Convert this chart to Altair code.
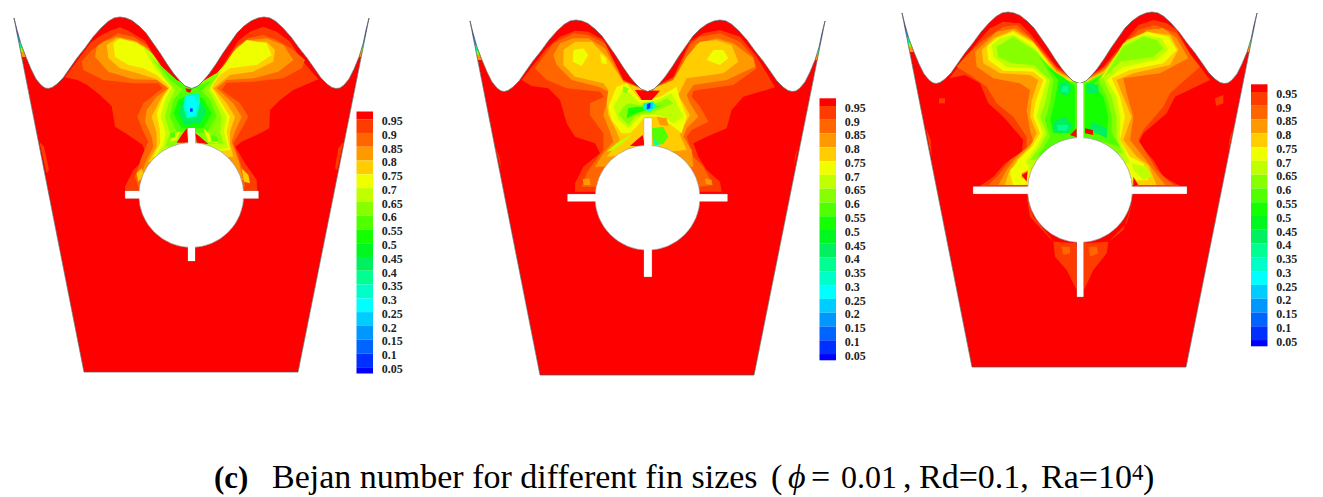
import altair as alt

LEVELS = ["0.975","0.925","0.875","0.825","0.775","0.725","0.675","0.625","0.575","0.525",
          "0.475","0.425","0.375","0.325","0.275","0.225","0.175","0.125","0.075","0.025","blank"]
COLORS = ["#ff0000","#ff3c00","#ff6600","#ff9900","#ffcd00","#f0ff00","#c0ff00","#88ff00","#50ff00","#14ff00",
          "#00f820","#00f060","#00ff90","#00ffc8","#00ffff","#00ccff","#0098ff","#0064ff","#0030ff","#0000ff","#ffffff"]
TICKS = ["0.95","0.9","0.85","0.8","0.75","0.7","0.65","0.6","0.55","0.5","0.45","0.4","0.35","0.3","0.25","0.2","0.15","0.1","0.05"]

WAVE = [(14,18),(17,30),(21,44),(26,57),(31,69),(36,79),(41,85),(45,88),(48.3,88.5),(52,87.5),(57,84),(63,78),(70,68),(77,58),(85,48),(93,37),(101,28),(108,21.5),(114,18),(120,17),(126,18),(132,20.5),(139,26),(146,33),(153,43),(160,53),(167,64),(174,74),(180,81),(185,86),(191.7,88.5),
        (198,86),(203,81),(209,74),(216,64),(223,53),(230,43),(237,33),(244,26),(251,21),(258,18),(264,17),(270,18),(276,21.5),(283,28),(291,37),(299,48),(307,58),(314,68),(321,78),(327,84),(332,87.5),(336,88.5),(340,88),(344,85),(349,79),(354,69),(359,57),(363,44),(366,30),(369,18)]
BOTTOM = [(298,372),(84,372)]
SHIFT = [(0,0),(456,3),(888,-5)]
CROP = [(0,0),(460,0),(890,0)]
BAR = [(356.5,111.5),(819.5,98.3),(1251,84.3)]
CIRCLES = [(191.3,195),(647.5,197.7),(1080,190)]
FINS = [
 [(188.3,195,128,150),(125.3,145,191,198.3),(238,258.3,191,198.3),(188,195,240,261)],
 [(644.3,651.7,118.3,150),(567.7,600,194.3,201.3),(695,727.3,194.3,201.3),(644,651.7,245,276.7)],
 [(1077,1083.3,83.3,140),(973.3,1030,186.7,193.7),(1130,1186.7,186.7,193.7),(1077,1083.3,240,296.7)],
]
TIP_BANDS = [("0.825",57),("0.625",52),("0.375",48),("0.175",42),("0.075",36)]

P1 = [
 (1,[(195,232),(232,240),(262,255),(300,285),(335,318),(345,380),(385,405),(428,435),(440,470),(400,510),(375,560),(376,575),(772,575),(770,540),(735,490),(706,440),(725,425),(770,405),(808,385),(810,330),(840,300),(880,270),(955,238),(905,180),(870,125),(830,95),(790,80),(750,95),(715,122),(640,240),(575,265),(510,240),(435,122),(385,92),(360,82),(330,92),(300,108),(272,128)]),
 (1,[(118,425),(132,440),(147,510),(140,520)]),
 (1,[(1030,425),(1015,445),(1005,505),(1012,510)]),
 (2,[(245,185),(250,210),(310,240),(400,250),(475,250),(488,265),(430,310),(412,350),(430,395),(445,425),(425,470),(405,530),(420,575),(735,560),(725,500),(700,430),(720,395),(745,350),(720,310),(665,270),(680,248),(760,245),(850,235),(905,205),(915,180),(880,150),(830,120),(790,105),(745,115),(715,135),(640,245),(575,265),(510,245),(440,135),(400,110),(355,100),(310,125),(275,150)]),
 (3,[(290,140),(285,170),(325,215),(400,238),(470,240),(505,265),(470,290),(440,330),(435,365),(455,410),(460,440),(435,490),(420,540),(730,540),(715,480),(695,425),(705,395),(725,350),(700,310),(650,265),(680,240),(760,235),(835,215),(880,180),(850,135),(800,115),(750,120),(710,140),(640,245),(575,265),(510,245),(445,145),(400,120),(350,110),(310,125)]),
 (4,[(320,135),(325,175),(360,205),(420,222),(470,238),(505,265),(480,300),(455,350),(470,400),(470,440),(445,485),(700,470),(690,430),(690,395),(705,350),(680,310),(640,265),(690,225),(760,215),(820,185),(825,150),(800,125),(750,125),(710,145),(640,245),(575,265),(510,245),(450,155),(410,125),(350,115)]),
 (5,[(340,130),(345,170),(385,195),(430,205),(470,225),(510,262),(490,290),(470,340),(480,390),(480,430),(460,470),(690,450),(680,395),(690,350),(665,310),(635,262),(660,225),(690,205),(770,195),(815,165),(800,130),(740,120),(700,155),(640,245),(575,265),(510,245),(455,160),(410,130),(360,115)]),
 (6,[(425,135),(465,205),(515,262),(495,300),(482,350),(497,400),(490,435),(465,470),(685,445),(672,395),(680,350),(655,305),(630,262),(665,210),(695,170),(650,220),(575,265),(510,235),(460,165)]),
 (7,[(450,165),(495,235),(525,270),(505,310),(495,350),(510,400),(495,440),(670,430),(660,395),(665,350),(645,305),(625,270),(660,215),(640,225),(575,265),(520,240)]),
 (8,[(470,185),(510,240),(548,268),(520,300),(510,350),(530,395),(620,400),(650,350),(630,300),(605,270),(640,240),(575,262),(530,240)]),
 (9,[(535,300),(520,340),(545,385),(610,385),(635,340),(610,295),(575,280)]),
 (11,[(545,310),(535,340),(555,375),(600,370),(620,335),(600,300),(575,290)]),
 (13,[(555,285),(600,280),(600,310),(590,350),(560,355),(550,320)]),
 (14,[(560,285),(585,290),(585,310),(595,300),(585,345),(565,350),(558,320)]),
 (18,[(570,325),(578,325),(578,335),(570,335)]),
 (0,[(556,265),(575,268),(570,278),(560,275)]),
 (0,[(560,385),(565,428),(530,428),(545,405)]),
 (0,[(586,400),(600,410),(625,432),(590,428)]),
 (5,[(520,400),(540,395),(530,420),(510,425)]),
 (5,[(610,385),(625,400),(655,430),(625,425)]),
 (8,[(510,400),(525,395),(525,412),(512,415)]),
 (8,[(630,405),(650,410),(655,425),(635,425)]),
 (4,[(410,520),(425,505),(432,525),(415,545)]),
 (4,[(725,505),(745,525),(750,550),(732,545)]),
]
P2 = [
 (1,[(185,240),(215,258),(265,265),(300,300),(320,370),(345,410),(405,430),(420,460),(370,500),(345,550),(345,575),(785,575),(780,545),(740,510),(715,470),(700,430),(740,410),(800,385),(815,330),(850,290),(945,262),(890,170),(840,110),(780,90),(730,100),(690,125),(640,230),(562,273),(490,240),(430,120),(385,95),(345,92),(300,110),(260,145)]),
 (1,[(105,440),(118,470),(125,510)]),
 (1,[(1015,435),(1005,470),(1002,500)]),
 (2,[(225,205),(260,240),(320,265),(420,275),(432,290),(390,310),(390,345),(430,400),(430,450),(400,490),(380,520),(365,560),(720,560),(760,555),(730,500),(700,470),(680,410),(695,390),(745,365),(720,320),(695,290),(700,272),(820,255),(890,205),(880,170),(840,125),(780,100),(720,110),(690,135),(640,235),(562,273),(490,240),(435,130),(385,105),(340,100),(280,130)]),
 (3,[(280,165),(290,195),(335,240),(420,262),(445,275),(440,310),(430,345),(450,395),(460,425),(430,460),(405,500),(700,500),(695,450),(670,410),(680,385),(715,350),(690,310),(680,285),(700,255),(800,240),(885,200),(880,175),(820,130),(770,115),(710,130),(640,240),(562,273),(490,245),(435,145),(385,115),(340,115),(300,130)]),
 (3,[(368,538),(388,535),(392,555),(372,555)]),
 (3,[(735,535),(755,540),(755,555),(738,552)]),
 (4,[(310,150),(310,195),(345,230),(430,250),(445,270),(440,310),(445,345),(470,395),(480,420),(440,470),(680,450),(660,405),(670,380),(690,345),(670,310),(655,285),(680,235),(790,220),(835,185),(815,135),(770,120),(720,125),(680,170),(640,240),(562,273),(490,245),(440,170),(395,125),(345,125)]),
 (5,[(340,150),(338,185),(365,198),(385,165),(370,145)]),
 (5,[(420,160),(438,175),(440,192),(425,190)]),
 (5,[(740,180),(780,195),(805,175),(790,150),(760,150)]),
 (5,[(470,260),(445,320),(455,360),(485,400),(510,400),(530,380),(555,350),(600,350),(640,380),(665,400),(680,350),(660,300),(650,260),(600,290),(540,300),(500,250)]),
 (6,[(490,270),(460,320),(475,360),(505,385),(545,345),(600,345),(640,370),(670,350),(650,310),(635,280),(590,300),(540,310),(510,280)]),
 (7,[(490,320),(475,345),(505,375),(530,345),(570,340),(640,310),(620,295),(580,315),(540,315),(505,310)]),
 (9,[(505,325),(500,355),(530,340),(560,330),(610,315),(580,320),(530,320)]),
 (13,[(548,310),(580,305),(590,320),(570,335),(550,328)]),
 (15,[(558,312),(578,308),(578,325),(560,330)]),
 (18,[(562,312),(572,308),(570,325),(560,328)]),
 (0,[(525,270),(600,272),(575,300),(545,300)]),
 (0,[(548,405),(555,438),(510,438),(530,420)]),
 (8,[(575,385),(580,435),(610,432),(625,410),(610,380)]),
 (13,[(578,410),(598,435),(585,435)]),
 (3,[(590,350),(620,355),(625,378),(600,375)]),
 (6,[(440,455),(470,430),(520,400),(500,420),(460,450)]),
 (7,[(490,258),(505,265),(500,280),(488,275)]),
]
P3 = [
 (1,[(178,235),(225,225),(270,250),(295,310),(340,350),(400,420),(395,455),(345,490),(310,530),(270,558),(870,558),(820,530),(790,480),(745,430),(760,400),(830,340),(855,290),(960,240),(900,160),(860,90),(830,70),(790,60),(745,75),(720,105),(640,200),(570,250),(500,200),(420,100),(390,70),(340,65),(300,85),(260,130)]),
 (1,[(490,725),(495,770),(530,810),(560,870),(560,730)]),
 (1,[(582,730),(582,870),(610,810),(650,760),(655,725)]),
 (1,[(410,590),(420,650),(490,725),(480,710),(430,650)]),
 (1,[(730,600),(710,670),(655,725),(700,690)]),
 (1,[(108,385),(122,420),(125,470),(118,440)]),
 (1,[(1035,375),(1020,410),(1015,450)]),
 (1,[(147,295),(165,295),(165,310),(147,310)]),
 (1,[(975,295),(1000,285),(1000,310),(978,318)]),
 (2,[(515,740),(520,765),(540,760),(540,740)]),
 (2,[(595,740),(600,770),(625,760),(620,740)]),
 (2,[(200,200),(240,225),(290,260),(320,310),(370,350),(410,410),(410,445),(360,480),(330,520),(295,555),(850,555),(800,510),(770,460),(745,420),(760,390),(820,320),(840,280),(930,200),(905,170),(860,100),(795,75),(745,90),(640,205),(570,250),(500,205),(420,110),(380,75),(340,80),(280,120),(230,165)]),
 (3,[(255,155),(260,200),(310,235),(390,250),(420,270),(410,330),(420,390),(430,425),(380,470),(350,510),(325,555),(825,555),(790,510),(760,470),(720,420),(730,350),(710,280),(700,235),(810,220),(895,175),(860,115),(820,85),(770,90),(640,210),(570,250),(500,210),(420,115),(375,85),(320,95)]),
 (4,[(275,150),(280,190),(330,220),(420,225),(445,240),(425,300),(420,350),(440,400),(420,440),(380,480),(355,520),(345,555),(800,555),(775,495),(740,470),(700,420),(725,350),(700,290),(680,240),(730,220),(840,195),(865,150),(840,105),(770,95),(710,120),(640,215),(570,250),(500,215),(430,125),(370,90),(310,115)]),
 (5,[(290,140),(295,180),(340,212),(430,215),(460,240),(435,310),(430,350),(450,400),(425,440),(385,480),(360,520),(370,555),(775,540),(760,490),(720,470),(690,420),(705,350),(690,290),(665,235),(720,210),(820,190),(860,150),(835,110),(770,95),(710,125),(640,225),(570,250),(500,225),(430,130),(370,95),(320,115)]),
 (6,[(305,135),(310,170),(350,200),(430,205),(470,240),(450,310),(440,350),(460,400),(440,440),(410,480),(400,510),(720,490),(690,420),(690,350),(680,290),(650,240),(700,200),(800,180),(835,150),(815,115),(760,105),(700,130),(640,230),(570,250),(500,230),(435,145),(370,105),(330,115)]),
 (7,[(320,140),(325,170),(365,190),(430,195),(480,240),(465,310),(450,350),(470,400),(450,440),(420,480),(700,460),(680,420),(680,350),(665,290),(640,235),(690,185),(790,170),(820,145),(800,120),(760,110),(700,140),(640,235),(570,250),(500,235),(440,155),(370,110)]),
 (8,[(445,165),(490,240),(480,310),(465,360),(480,410),(460,445),(440,470),(540,420),(560,410),(560,250),(520,240)]),
 (8,[(690,440),(665,400),(665,350),(650,290),(625,240),(660,195),(640,220),(582,250),(582,410)]),
 (9,[(470,200),(505,240),(495,300),(480,360),(490,400),(555,400),(555,260),(525,235)]),
 (9,[(585,255),(585,390),(650,410),(655,350),(640,290),(610,250),(640,225)]),
 (11,[(510,250),(505,275),(530,290),(545,265),(530,245)]),
 (11,[(490,365),(490,395),(530,400),(550,380),(525,350)]),
 (11,[(590,250),(590,280),(625,280),(625,255)]),
 (11,[(605,365),(600,390),(650,415),(650,385)]),
 (12,[(518,258),(515,275),(535,275),(535,258)]),
 (12,[(500,375),(505,392),(530,392),(535,375)]),
 (0,[(540,405),(560,385),(560,412)]),
 (0,[(585,385),(608,390),(610,405),(585,400)]),
 (0,[(730,530),(745,555),(730,558)]),
 (5,[(360,510),(400,480),(420,500),(395,525),(365,530)]),
 (3,[(395,520),(415,510),(410,535),(395,535)]),
 (6,[(725,490),(770,500),(785,530),(760,540),(730,510)]),
 (0,[(395,525),(412,515),(410,545)]),
]
CONTOURS = [P1, P2, P3]

def feature(level, pts):
    ring = [list(p) for p in pts] + [list(pts[0])]
    return {"type": "Feature", "properties": {"level": level},
            "geometry": {"type": "Polygon", "coordinates": [ring]}}

LEFT, TOP, RIGHT, FOOT = 8, 8, 1315, 497
features = [feature("blank", [(LEFT,TOP),(RIGHT,TOP),(RIGHT,FOOT),(LEFT,FOOT)])]
outlines = []
for i in range(3):
    dx, dy = SHIFT[i]
    cx, cy = CROP[i]
    mv = lambda pts: [(x+dx, max(y+dy, TOP)) for x, y in pts]
    outline = WAVE + BOTTOM
    features.append(feature("0.975", mv(outline)))
    for lvl, pts in CONTOURS[i]:
        features.append(feature(LEVELS[lvl], [(x/3+cx, y/3+cy) for x, y in pts]))
    for lvl, yb in TIP_BANDS:
        features.append(feature(lvl, mv([(16,18),(40,18),(40,yb),(16,yb)])))
        features.append(feature(lvl, mv([(343,18),(367,18),(367,yb),(343,yb)])))
    features.append(feature("blank", mv([(14,0)] + WAVE + [(369,0)])))
    features.append(feature("blank", mv([(14,18),(84,372),(60,372),(9,18)])))
    features.append(feature("blank", mv([(369,18),(298,372),(322,372),(374,18)])))
    outlines.append(feature("line", mv(outline)))

X = alt.Scale(domain=[LEFT,RIGHT], range=[0,RIGHT-LEFT])
Y = alt.Scale(domain=[TOP,FOOT], range=[0,FOOT-TOP])
NA = None

fills = alt.Chart(alt.InlineData(values={"type":"FeatureCollection","features":features},
                                 format=alt.DataFormat(type="json", property="features"))
    ).mark_geoshape(strokeWidth=0).encode(
    fill=alt.Fill("properties.level:N", scale=alt.Scale(domain=LEVELS, range=COLORS), legend=None)
    ).project(type="identity")
edge = alt.Chart(alt.InlineData(values={"type":"FeatureCollection","features":outlines},
                                format=alt.DataFormat(type="json", property="features"))
    ).mark_geoshape(filled=False, stroke="#555555", strokeWidth=0.7).project(type="identity")

fin_rows = [dict(x=a, x2=b, y=c, y2=d) for f in FINS for a, b, c, d in f]
fin_base = alt.Chart(alt.Data(values=fin_rows)).encode(
    x=alt.X("x:Q", scale=X, axis=NA), x2="x2:Q", y=alt.Y("y:Q", scale=Y, axis=NA), y2="y2:Q")
fins = fin_base.mark_rect(color="white", stroke="#999999", strokeWidth=0.5)
fins_top = fin_base.mark_rect(color="white", strokeWidth=0)
discs = alt.Chart(alt.Data(values=[dict(x=a, y=b) for a, b in CIRCLES])).mark_circle(
    color="white", opacity=1, size=11025, stroke="#888888", strokeWidth=0.6).encode(
    x=alt.X("x:Q", scale=X, axis=NA), y=alt.Y("y:Q", scale=Y, axis=NA))

STEP = 13.78
bar_rows, tick_rows = [], []
for bx, by in BAR:
    edges = [by, by+STEP/2+0.8] + [by+STEP/2+0.8+STEP*k for k in range(1, 19)] + [by+262]
    for k in range(20):
        bar_rows.append(dict(x=bx, x2=bx+16.5, y=edges[k], y2=edges[k+1], level=LEVELS[k]))
    for k, t in enumerate(TICKS):
        tick_rows.append(dict(x=bx+25.2, y=edges[k+1]+1.8, t=t))
bars = alt.Chart(alt.Data(values=bar_rows)).mark_rect(strokeWidth=0).encode(
    x=alt.X("x:Q", scale=X, axis=NA), x2="x2:Q", y=alt.Y("y:Q", scale=Y, axis=NA), y2="y2:Q",
    fill=alt.Fill("level:N", scale=alt.Scale(domain=LEVELS, range=COLORS), legend=None))
ticks = alt.Chart(alt.Data(values=tick_rows)).mark_text(
    font="Liberation Serif", fontSize=12, fontWeight="bold", align="left", baseline="middle", color="#222222").encode(
    x=alt.X("x:Q", scale=X, axis=NA), y=alt.Y("y:Q", scale=Y, axis=NA), text="t:N")

def cap(t, x, y=488, size=34, **kw):
    return alt.Chart(alt.Data(values=[dict(x=x, y=y, t=t)])).mark_text(
        font="Liberation Serif", fontSize=size, align="left", baseline="alphabetic", color="black", **kw).encode(
        x=alt.X("x:Q", scale=X, axis=NA), y=alt.Y("y:Q", scale=Y, axis=NA), text="t:N")

caption = [
    cap("(c)", 214, size=31, fontWeight="bold"),
    cap("Bejan number for different fin sizes", 272),
    cap("(", 771),
    cap("\u03d5", 788, fontStyle="italic"),
    cap("=", 811),
    cap("0.01", 841, size=32),
    cap(",", 903),
    cap("Rd=0.1,", 919),
    cap("Ra=10", 1041),
    cap("4", 1132, y=480, size=23),
    cap(")", 1143),
]

chart = alt.layer(fills, edge, fins, discs, fins_top, bars, ticks, *caption).properties(
    width=RIGHT-LEFT, height=FOOT-TOP, padding=0, autosize="none"
).configure_view(stroke=None)
chart.save("out.html", embed_options={"renderer": "svg", "actions": False})
